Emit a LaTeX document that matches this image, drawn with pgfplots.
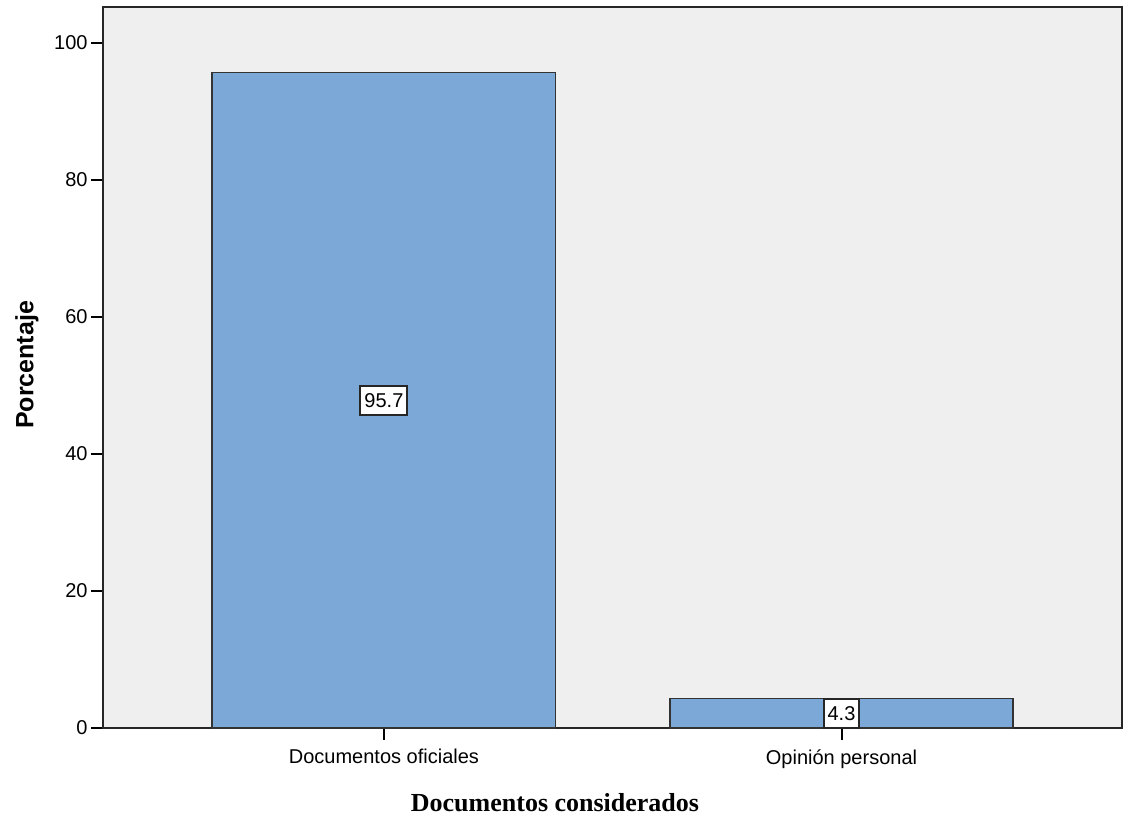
\documentclass[border=0pt]{standalone}
\usepackage{fontspec}
\setmainfont{Liberation Sans}
\newfontfamily\serifbold{Liberation Serif}
\usepackage{pgfplots}
\pgfplotsset{compat=1.18}
\definecolor{barblue}{RGB}{123,168,214}
\definecolor{bgray}{RGB}{239,239,239}
\begin{document}
\begin{tikzpicture}
\path (-51.5pt,-46pt) rectangle (511pt,364pt);
\begin{axis}[at={(0,0)}, anchor=south west, scale only axis,
  width=509.5pt, height=360.5pt,
  xmin=-0.614, xmax=1.613, ymin=0, ymax=105.26,
  xtick={0,1}, xticklabels={Documentos oficiales, Opinión personal},
  ytick={0,20,40,60,80,100},
  tick align=outside, tick pos=left, major tick length=6pt,
  axis background/.style={fill=bgray},
  axis line style={black!85, line width=1pt},
  tick style={black, line width=1pt},
  font=\fontsize{10}{12}\selectfont,
  /pgf/number format/assume math mode=true,
  yticklabel style={inner xsep=1.5pt},
  xticklabel style={inner ysep=2pt, yshift=-2.5pt},
]
\addplot[ybar, bar width=0.75, fill=barblue, draw=black!80, line width=0.9pt]
  coordinates {(0,95.7) (1,4.3)};
\addplot[draw=none, mark=none, nodes near coords, point meta=explicit symbolic,
  every node near coord/.style={draw=black!85, fill=white, line width=1pt,
    inner xsep=2pt, inner ysep=3.8pt, anchor=center,
    font=\fontsize{10}{12}\selectfont}]
  coordinates {(0,47.85) [95.7] (1,2.15) [4.3]};
\end{axis}
\node[rotate=90, font=\fontsize{12.5}{14}\selectfont\bfseries] at (-38pt,181.5pt) {Porcentaje};
\node[font=\fontsize{13}{15}\selectfont\serifbold\bfseries] at (226pt,-37.5pt) {Documentos considerados};
\end{tikzpicture}
\end{document}
